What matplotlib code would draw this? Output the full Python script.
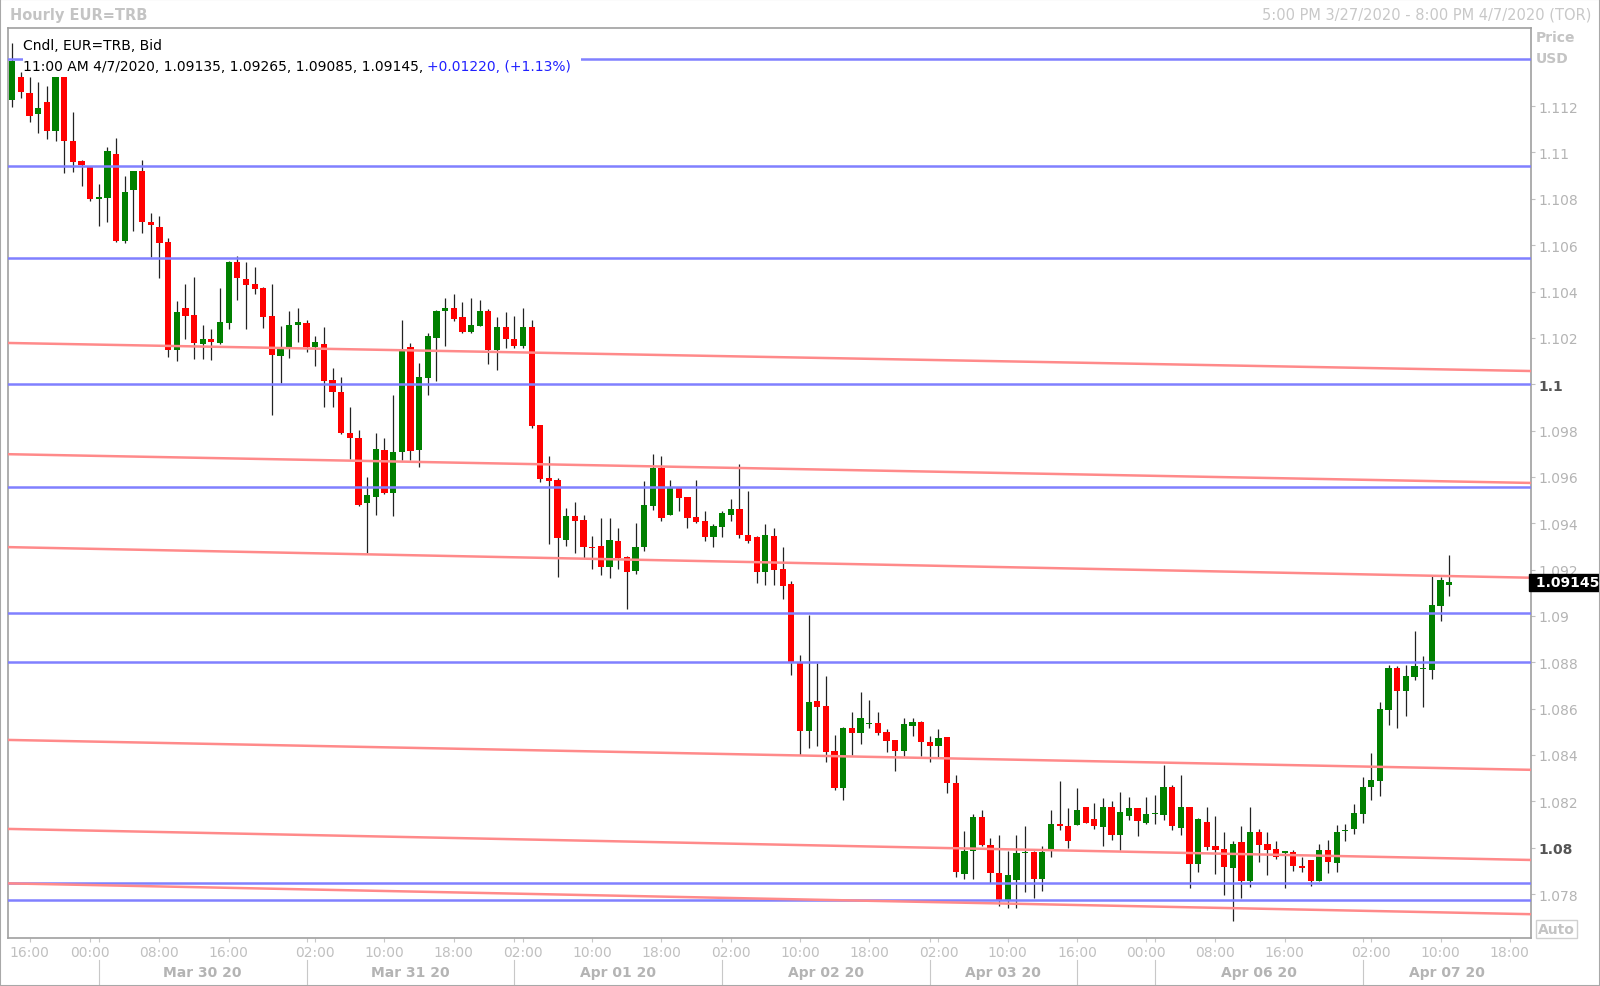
import matplotlib
matplotlib.use('Agg')
import matplotlib.pyplot as plt
import matplotlib.transforms as mtransforms
from matplotlib.patches import Rectangle
import numpy as np

# hourly EUR=TRB bid candles (oldest first)
opens = [1.11228, 1.11324, 1.11255, 1.11166, 1.11216, 1.11094, 1.11324, 1.11048, 1.10962, 1.10936,
         1.10801, 1.10803, 1.10993, 1.10619, 1.10838, 1.10918, 1.10700, 1.10680, 1.10612, 1.10148,
         1.10330, 1.10298, 1.10172, 1.10195, 1.10178, 1.10264, 1.10529, 1.10454, 1.10432, 1.10415,
         1.10293, 1.10123, 1.10162, 1.10255, 1.10264, 1.10162, 1.10173, 1.10018, 1.09968, 1.09788,
         1.09766, 1.09486, 1.09515, 1.09717, 1.09530, 1.09706, 1.10162, 1.09716, 1.10027, 1.10199,
         1.10317, 1.10329, 1.10291, 1.10224, 1.10253, 1.10317, 1.10149, 1.10248, 1.10195, 1.10166,
         1.10248, 1.09825, 1.09595, 1.09588, 1.09329, 1.09433, 1.09414, 1.09299, 1.09300, 1.09210,
         1.09322, 1.09253, 1.09195, 1.09296, 1.09476, 1.09638, 1.09437, 1.09552, 1.09512, 1.09425,
         1.09408, 1.09342, 1.09382, 1.09436, 1.09461, 1.09351, 1.09339, 1.09188, 1.09346, 1.09202,
         1.09138, 1.08795, 1.08505, 1.08631, 1.08613, 1.08419, 1.08256, 1.08516, 1.08493, 1.08534,
         1.08538, 1.08498, 1.08465, 1.08419, 1.08524, 1.08541, 1.08455, 1.08437, 1.08476, 1.08279,
         1.07886, 1.07984, 1.08131, 1.08011, 1.07891, 1.07768, 1.07862, 1.07975, 1.07983, 1.07865,
         1.07994, 1.08102, 1.08092, 1.08099, 1.08174, 1.08124, 1.08091, 1.08174, 1.08055, 1.08135,
         1.08171, 1.08105, 1.08144, 1.08141, 1.08260, 1.08083, 1.08174, 1.07929, 1.08109, 1.08009,
         1.07994, 1.07912, 1.08026, 1.07858, 1.08069, 1.08016, 1.07994, 1.07977, 1.07983, 1.07921,
         1.07947, 1.07858, 1.07991, 1.07932, 1.08070, 1.08081, 1.08145, 1.08260, 1.08289, 1.08595,
         1.08775, 1.08677, 1.08738, 1.08770, 1.08767, 1.09044, 1.09135]
highs = [1.11472, 1.11346, 1.11324, 1.11303, 1.11285, 1.11327, 1.11327, 1.11173, 1.10967, 1.10939,
         1.10864, 1.11025, 1.11062, 1.10897, 1.10921, 1.10967, 1.10737, 1.10724, 1.10629, 1.10360,
         1.10432, 1.10461, 1.10255, 1.10238, 1.10414, 1.10533, 1.10555, 1.10529, 1.10504, 1.10418,
         1.10432, 1.10253, 1.10317, 1.10329, 1.10277, 1.10207, 1.10248, 1.10068, 1.10030, 1.09900,
         1.09804, 1.09598, 1.09788, 1.09766, 1.09953, 1.10277, 1.10178, 1.10091, 1.10221, 1.10320,
         1.10372, 1.10389, 1.10353, 1.10372, 1.10363, 1.10324, 1.10289, 1.10310, 1.10293, 1.10329,
         1.10277, 1.09825, 1.09689, 1.09595, 1.09464, 1.09493, 1.09436, 1.09343, 1.09423, 1.09423,
         1.09378, 1.09260, 1.09401, 1.09584, 1.09699, 1.09692, 1.09587, 1.09555, 1.09515, 1.09587,
         1.09454, 1.09397, 1.09454, 1.09505, 1.09656, 1.09538, 1.09346, 1.09397, 1.09378, 1.09296,
         1.09152, 1.08833, 1.09004, 1.08795, 1.08742, 1.08488, 1.08519, 1.08584, 1.08670, 1.08639,
         1.08584, 1.08512, 1.08465, 1.08558, 1.08558, 1.08545, 1.08483, 1.08512, 1.08476, 1.08314,
         1.08073, 1.08145, 1.08164, 1.08040, 1.08056, 1.07987, 1.08055, 1.08092, 1.07985, 1.08006,
         1.08164, 1.08286, 1.08171, 1.08257, 1.08177, 1.08193, 1.08213, 1.08203, 1.08239, 1.08217,
         1.08171, 1.08217, 1.08227, 1.08357, 1.08270, 1.08315, 1.08174, 1.08128, 1.08174, 1.08138,
         1.08069, 1.08027, 1.08092, 1.08177, 1.08080, 1.08066, 1.08030, 1.07987, 1.07991, 1.07958,
         1.07947, 1.08016, 1.08033, 1.08098, 1.08102, 1.08188, 1.08303, 1.08407, 1.08630, 1.08790,
         1.08785, 1.08790, 1.08934, 1.08829, 1.09171, 1.09166, 1.09265]
lows = [1.11195, 1.11235, 1.11130, 1.11084, 1.11058, 1.11048, 1.10911, 1.10917, 1.10854, 1.10792,
        1.10684, 1.10698, 1.10612, 1.10608, 1.10662, 1.10652, 1.10547, 1.10458, 1.10119, 1.10099,
        1.10195, 1.10109, 1.10109, 1.10104, 1.10173, 1.10238, 1.10365, 1.10238, 1.10389, 1.10241,
        1.09867, 1.10005, 1.10113, 1.10181, 1.10137, 1.10077, 1.09900, 1.09903, 1.09785, 1.09677,
        1.09476, 1.09270, 1.09436, 1.09526, 1.09433, 1.09673, 1.09673, 1.09641, 1.09953, 1.10015,
        1.10166, 1.10274, 1.10219, 1.10221, 1.10250, 1.10087, 1.10061, 1.10156, 1.10156, 1.10156,
        1.09810, 1.09579, 1.09310, 1.09169, 1.09300, 1.09270, 1.09249, 1.09202, 1.09178, 1.09164,
        1.09202, 1.09030, 1.09181, 1.09279, 1.09459, 1.09411, 1.09436, 1.09454, 1.09379, 1.09400,
        1.09325, 1.09299, 1.09339, 1.09411, 1.09336, 1.09313, 1.09142, 1.09135, 1.09135, 1.09073,
        1.08745, 1.08400, 1.08429, 1.08440, 1.08368, 1.08250, 1.08207, 1.08401, 1.08447, 1.08515,
        1.08488, 1.08414, 1.08329, 1.08394, 1.08480, 1.08394, 1.08368, 1.08390, 1.08234, 1.07872,
        1.07865, 1.07865, 1.08006, 1.07847, 1.07750, 1.07740, 1.07740, 1.07807, 1.07781, 1.07814,
        1.07958, 1.08078, 1.07997, 1.08099, 1.08105, 1.08081, 1.08006, 1.08034, 1.07991, 1.08121,
        1.08049, 1.08102, 1.08102, 1.08121, 1.08078, 1.08056, 1.07824, 1.07894, 1.07991, 1.07886,
        1.07796, 1.07685, 1.07781, 1.07829, 1.07937, 1.07882, 1.07951, 1.07824, 1.07898, 1.07893,
        1.07836, 1.07855, 1.07889, 1.07896, 1.08030, 1.08059, 1.08105, 1.08207, 1.08221, 1.08531,
        1.08515, 1.08567, 1.08723, 1.08606, 1.08728, 1.08980, 1.09085]
closes = [1.11396, 1.11262, 1.11159, 1.11192, 1.11094, 1.11324, 1.11051, 1.10957, 1.10947, 1.10799,
          1.10806, 1.11008, 1.10619, 1.10828, 1.10918, 1.10698, 1.10686, 1.10608, 1.10148, 1.10313,
          1.10296, 1.10178, 1.10195, 1.10181, 1.10267, 1.10529, 1.10460, 1.10429, 1.10411, 1.10291,
          1.10126, 1.10159, 1.10255, 1.10267, 1.10162, 1.10181, 1.10015, 1.09965, 1.09788, 1.09769,
          1.09480, 1.09523, 1.09720, 1.09529, 1.09709, 1.10145, 1.09710, 1.10030, 1.10207, 1.10317,
          1.10329, 1.10281, 1.10224, 1.10255, 1.10317, 1.10149, 1.10248, 1.10195, 1.10166, 1.10248,
          1.09821, 1.09591, 1.09584, 1.09336, 1.09433, 1.09411, 1.09296, 1.09292, 1.09210, 1.09328,
          1.09249, 1.09188, 1.09299, 1.09479, 1.09638, 1.09423, 1.09552, 1.09509, 1.09423, 1.09407,
          1.09342, 1.09387, 1.09443, 1.09461, 1.09349, 1.09325, 1.09188, 1.09351, 1.09198, 1.09131,
          1.08795, 1.08505, 1.08627, 1.08608, 1.08414, 1.08256, 1.08516, 1.08493, 1.08558, 1.08538,
          1.08493, 1.08462, 1.08419, 1.08534, 1.08544, 1.08455, 1.08437, 1.08472, 1.08279, 1.07894,
          1.07987, 1.08134, 1.08011, 1.07891, 1.07768, 1.07883, 1.07977, 1.07980, 1.07865, 1.07983,
          1.08102, 1.08095, 1.08030, 1.08164, 1.08105, 1.08095, 1.08174, 1.08055, 1.08155, 1.08171,
          1.08116, 1.08145, 1.08148, 1.08260, 1.08095, 1.08174, 1.07929, 1.08124, 1.08001, 1.07990,
          1.07915, 1.08016, 1.07858, 1.08069, 1.08013, 1.07991, 1.07958, 1.07984, 1.07919, 1.07914,
          1.07858, 1.07991, 1.07937, 1.08069, 1.08078, 1.08148, 1.08263, 1.08292, 1.08598, 1.08775,
          1.08677, 1.08739, 1.08785, 1.08775, 1.09047, 1.09155, 1.09145]

# horizontal support / resistance levels (blue)
blue_levels = [1.11402, 1.10943, 1.10545, 1.10000, 1.09558, 1.09011, 1.08802, 1.07849, 1.07775]
# sloping trend lines (red): price at left edge, price at right edge
red_start = [1.10178, 1.09698, 1.09297, 1.08465, 1.08081, 1.07846]
red_end = [1.10057, 1.09574, 1.09165, 1.08336, 1.07947, 1.07713]

# time axis (one slot per hourly candle)
xtick_slots = [2, 9, 17, 25, 35, 43, 51, 59, 67, 75, 83, 91, 99, 107, 115, 123, 131, 139, 147, 157, 165, 173]
xtick_labels = ['16:00', '00:00', '08:00', '16:00', '02:00', '10:00', '18:00', '02:00', '10:00', '18:00',
                '02:00', '10:00', '18:00', '02:00', '10:00', '16:00', '00:00', '08:00', '16:00', '02:00',
                '10:00', '18:00']
day_breaks = [10, 34, 58, 82, 106, 123, 132, 156]
day_labels = ['Mar 30 20', 'Mar 31 20', 'Apr 01 20', 'Apr 02 20', 'Apr 03 20', None, 'Apr 06 20', 'Apr 07 20']

last_info = '11:00 AM 4/7/2020, 1.09135, 1.09265, 1.09085, 1.09145, '
last_change = '+0.01220, (+1.13%)'

XMIN, XMAX = -0.47, 175.4
YMIN, YMAX = 1.076101, 1.115388

fig = plt.figure(figsize=(16, 9.87), dpi=100)
ax = fig.add_axes([0.00513, 0.0486, 0.95147, 0.9224])
ax.set_xlim(XMIN, XMAX)
ax.set_ylim(YMIN, YMAX)

UP, DOWN = '#008000', '#ff0000'
x = np.arange(len(closes))
o = np.array(opens)
c = np.array(closes)
cols = [UP if cc >= oo else DOWN for oo, cc in zip(o, c)]

ax.vlines(x, lows, highs, color='#222222', lw=0.9, zorder=2)
body = np.maximum(np.abs(c - o), 0.00006)
ax.bar(x, body, bottom=np.minimum(o, c), width=0.72, color=cols, linewidth=0, zorder=3)

for lvl in blue_levels:
    ax.axhline(lvl, color='#8080ff', lw=1.8, zorder=4)
for p0, p1 in zip(red_start, red_end):
    ax.plot([XMIN, XMAX], [p0, p1], color='#ff8a8a', lw=1.8, zorder=4)

# spines
for s in ax.spines.values():
    s.set_color('#a0a0a0')
    s.set_linewidth(1.2)

# y axis on the right
yt = [round(v, 3) for v in np.arange(1.078, 1.1125, 0.002)]
ax.yaxis.tick_right()
ax.set_yticks(yt)
ax.set_yticklabels(['{:g}'.format(v) for v in yt])
ax.tick_params(axis='y', length=3, width=0.8, color='#c0c0c0', pad=2.5,
               labelsize=10, labelcolor='#b4b4b4')
for lab in ax.get_yticklabels():
    if lab.get_text() in ('1.1', '1.08'):
        lab.set_fontweight('bold')
        lab.set_color('#555555')

# x axis
ax.set_xticks(xtick_slots)
ax.set_xticklabels(xtick_labels)
ax.set_xticks(day_breaks, minor=True)
ax.tick_params(axis='x', which='both', length=3, width=0.8, color='#c8c8c8', pad=2,
               labelsize=10, labelcolor='#c0c0c0')

bt = mtransforms.blended_transform_factory(ax.transData, ax.transAxes)
for b in day_breaks:
    ax.plot([b, b], [-0.024, -0.056], transform=bt, clip_on=False, color='#c8c8c8', lw=0.8)
edges = day_breaks + [XMAX]
for i, lab in enumerate(day_labels):
    if lab:
        ax.text((edges[i] + edges[i + 1]) / 2, -0.037, lab, transform=bt, ha='center', va='center',
                fontsize=10, fontweight='bold', color='#b4b4b4')

# legend block top-left with white background
ax.add_patch(Rectangle((0.0095, 0.949), 0.367, 0.043, transform=ax.transAxes,
                       facecolor='white', edgecolor='none', zorder=5))
ax.text(0.0094, 0.981, 'Cndl, EUR=TRB, Bid', transform=ax.transAxes, ha='left', va='center',
        fontsize=10, color='black', zorder=6)
t1 = ax.text(0.0094, 0.9574, last_info, transform=ax.transAxes, ha='left', va='center',
             fontsize=10, color='black', zorder=6)
ax.annotate(last_change, xy=(1, 0.5), xycoords=t1, ha='left', va='center',
            fontsize=10, color='#2020ff', zorder=6)

# current price tag
yt_tr = mtransforms.blended_transform_factory(ax.transAxes, ax.transData)
ax.text(1.0, closes[-1], ' {:.5f}'.format(closes[-1]), transform=yt_tr, ha='left', va='center',
        fontsize=10, fontweight='bold', color='white', zorder=7,
        bbox=dict(boxstyle='square,pad=0.12', facecolor='black', edgecolor='black'))

# header and side labels
fig.text(0.0064, 0.9845, 'Hourly EUR=TRB', ha='left', va='center', fontsize=10.5, fontweight='bold',
         color='#c4c4c4')
fig.text(0.9949, 0.9845, '5:00 PM 3/27/2020 - 8:00 PM 4/7/2020 (TOR)', ha='right', va='center',
         fontsize=10.5, color='#c8c8c8')
fig.text(0.9598, 0.9617, 'Price', ha='left', va='center', fontsize=10, fontweight='bold', color='#c4c4c4')
fig.text(0.9598, 0.9400, 'USD', ha='left', va='center', fontsize=10, fontweight='bold', color='#c4c4c4')
fig.text(0.9726, 0.0579, 'Auto', ha='center', va='center', fontsize=10, fontweight='bold', color='#c4c4c4',
         bbox=dict(boxstyle='square,pad=0.15', facecolor='white', edgecolor='#d0d0d0'))

fig.patches.append(Rectangle((0, 0), 1, 1, transform=fig.transFigure, fill=False,
                             edgecolor='#a8a8a8', lw=1.5))

fig.savefig('out.png', dpi=100)
